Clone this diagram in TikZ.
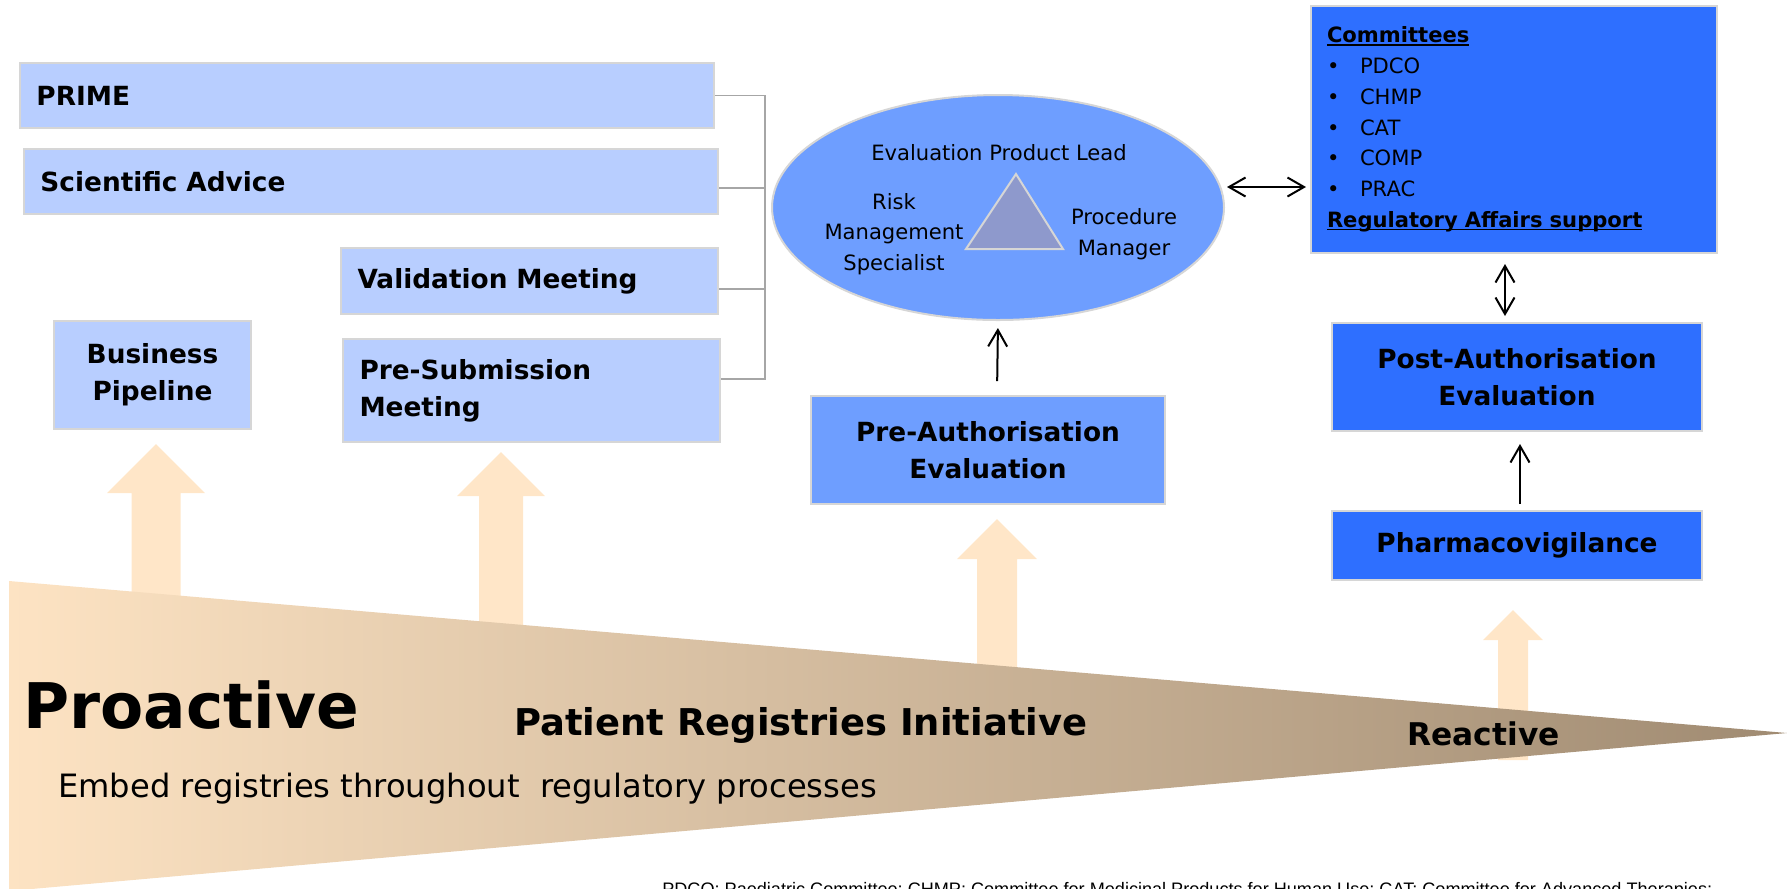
\documentclass[tikz,border=0pt]{standalone}
\usepackage{fontspec}
\setmainfont{DejaVu Sans}
\newfontfamily\notefont{Liberation Sans}
\usepackage{tikz}
\usetikzlibrary{positioning,calc,arrows.meta,shapes.geometric}

\definecolor{boxlight}{HTML}{B8CEFF}
\definecolor{boxmid}{HTML}{6E9EFF}
\definecolor{boxdark}{HTML}{2E6FFF}
\definecolor{edgegray}{HTML}{D6D6D6}
\definecolor{bracketgray}{HTML}{A6A6A6}
\definecolor{trifill}{HTML}{8E99CC}
\definecolor{peach}{HTML}{FFE6C8}
\definecolor{wedgeleft}{HTML}{FDE3C3}
\definecolor{wedgeright}{HTML}{A08B72}

\tikzset{
  procbox/.style={draw=edgegray, line width=0.4mm, inner sep=0pt, font=\fontsize{15}{21}\selectfont\bfseries},
  procboxlight/.style={procbox, fill=boxlight},
  procboxmid/.style={procbox, fill=boxmid, align=center},
  procboxdark/.style={procbox, fill=boxdark, align=center},
  leftbox/.style={procboxlight, align=left, inner xsep=3.3mm},
  rolefont/.style={font=\fontsize{12}{17.4}\selectfont, align=center, inner sep=0pt},
  wedgetext/.style={anchor=base west, inner sep=0pt},
  linkline/.style={line width=0.4mm},
  bracketline/.style={draw=bracketgray, line width=0.3mm},
}
\newcommand{\ulbold}[1]{\leavevmode\setbox0\hbox{\bfseries #1}\rlap{\rule[-1.6pt]{\wd0}{0.8pt}}\box0}
\newcommand{\bul}{\makebox[6.6mm][l]{\textbullet}}

\begin{document}
\begin{tikzpicture}[x=0.2mm, y=-0.2mm, >={Straight Barb[length=3.3mm,width=3.8mm]}]
  \useasboundingbox (0,0) rectangle (1787,888);
  \clip (0,0) rectangle (1787,888);

  % block arrows rising out of the wedge (their feet go under it)
  \foreach \ax/\ay/\s in {156/444/24.5, 501/452/22, 997/519/20, 1513/610/15}
    \fill[peach] (\ax,\ay) -- ++(2*\s,2*\s) -- ++(-\s,0) -- (\ax+\s,760)
      -- (\ax-\s,760) -- (\ax-\s,\ay+2*\s) -- ++(-\s,0) -- cycle;

  % proactive -> reactive wedge
  \shade[left color=wedgeleft, right color=wedgeright] (9,581) -- (1787,733) -- (9,891) -- cycle;
  \node[wedgetext, font=\fontsize{35.8}{40}\selectfont\bfseries] (proactive) at (23,728) {Proactive};
  \node[wedgetext, font=\fontsize{21}{24}\selectfont\bfseries] (initiative) at (514,735) {Patient Registries Initiative};
  \node[wedgetext, font=\fontsize{17.8}{21}\selectfont\bfseries] (reactive) at (1407,745) {Reactive};
  \node[wedgetext, font=\fontsize{18.3}{21}\selectfont] (embed) at (58,797) {Embed registries throughout~ regulatory processes};

  % abbreviations, cut off by the page edge
  \node[wedgetext, font=\notefont\fontsize{10.3}{12}\selectfont] (abbrev) at (662,895)
    {PDCO: Paediatric Committee; CHMP: Committee for Medicinal Products for Human Use; CAT: Committee for Advanced Therapies;};

  % advice and meeting boxes
  \node[leftbox, text width=132.2mm, minimum height=13mm] (prime) at (367,95.5) {PRIME};
  \node[leftbox, text width=132.2mm, minimum height=13mm, below=3.8mm of prime, xshift=0.8mm] (sciadv) {Scientific Advice};
  \node[leftbox, text width=68.8mm, minimum height=13.2mm] (valmeet) at (529.5,281) {Validation Meeting};
  \node[leftbox, text width=68.8mm, minimum height=20.6mm, below=4.6mm of valmeet, xshift=0.4mm] (presub) {Pre-Submission\\Meeting};
  \node[procboxlight, align=center, minimum width=39.4mm, minimum height=21.6mm] (bpipe) at (152.5,375) {Business\\Pipeline};

  % bracket joining the four boxes
  \coordinate (bx) at (765,0);
  \foreach \n/\s in {prime/0mm, sciadv/-1.3mm, valmeet/-1.6mm, presub/2.3mm}
    \path ([yshift=\s]\n.east) coordinate (\n-stub);
  \draw[bracketline] (prime-stub) -- (bx |- prime-stub) -- (bx |- presub-stub) -- (presub-stub);
  \draw[bracketline] (sciadv-stub) -- (bx |- sciadv-stub);
  \draw[bracketline] (valmeet-stub) -- (bx |- valmeet-stub);

  % evaluation team
  \node[ellipse, draw=edgegray, line width=0.4mm, fill=boxmid, minimum width=90.4mm, minimum height=45mm, inner sep=0pt] (team) at (998,207.5) {};
  \filldraw[fill=trifill, draw=edgegray, line width=0.4mm] (1016,174) -- (966,249) -- (1063,249) -- cycle;
  \node[rolefont] (epl) at (999,153) {Evaluation Product Lead};
  \node[rolefont] (rms) at (894,234) {Risk\\Management\\Specialist};
  \node[rolefont] (pm) at (1124,234) {Procedure\\Manager};

  % evaluation boxes
  \node[procboxmid, minimum width=70.8mm, minimum height=21.6mm] (preauth) at (988,450) {Pre-Authorisation\\Evaluation};
  \node[procboxdark, minimum width=74mm, minimum height=21.6mm] (postauth) at (1517,377) {Post-Authorisation\\Evaluation};
  \node[procboxdark, minimum width=74mm, minimum height=13.8mm, below=15.6mm of postauth] (pharmacov) {Pharmacovigilance};
  \node[procboxdark, align=left, font=\fontsize{12}{17.5}\selectfont, text width=74.8mm, inner xsep=3.2mm, minimum height=49.4mm] (committees) at (1514,129.5)
    {\ulbold{Committees}\\
     \bul PDCO\\
     \bul CHMP\\
     \bul CAT\\
     \bul COMP\\
     \bul PRAC\\
     \ulbold{Regulatory Affairs support}};

  % links
  \coordinate (teamlink) at ([yshift=4.1mm]team.east);
  \draw[linkline, <->, shorten <=0.4mm, shorten >=0.8mm] (teamlink) -- (teamlink -| committees.west);
  \coordinate (cmtlink) at ([xshift=-1.8mm]committees.south);
  \draw[linkline, <->, shorten <=2mm, shorten >=1.2mm] (cmtlink) -- (cmtlink |- postauth.north);
  \draw[linkline, ->, shorten <=1.2mm, shorten >=2.4mm] ([xshift=0.6mm]pharmacov.north) -- ([xshift=0.6mm]postauth.south);
  \draw[linkline, ->, shorten <=2.8mm, shorten >=1.4mm] ([xshift=1.8mm]preauth.north) -- (team.south);
\end{tikzpicture}
\end{document}
